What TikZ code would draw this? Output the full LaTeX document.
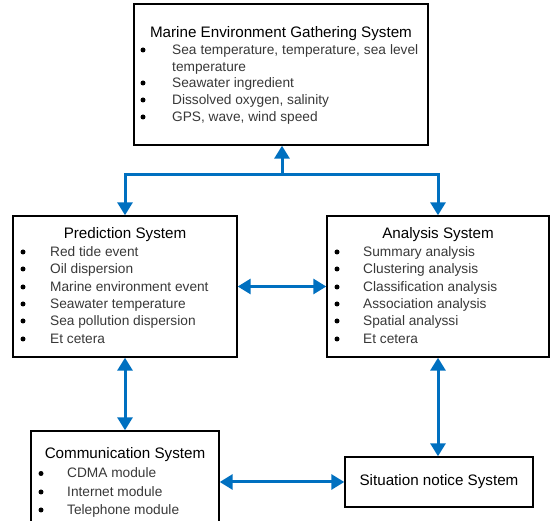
\documentclass[tikz,border=0pt]{standalone}
\usepackage{fontspec}
\setmainfont{Liberation Sans}
\usetikzlibrary{arrows.meta,positioning}
\definecolor{arrowblue}{HTML}{0070C0}
\colorlet{itemgray}{black!78}

\begin{document}
\begin{tikzpicture}[
  x=1pt,y=-1pt,
  >={Triangle[width=15pt,length=13pt]},
  box/.style = {draw,line width=1.4pt,rectangle,inner sep=0pt},
  title/.style = {font=\fontsize{15.2}{17}\selectfont,inner sep=0pt,
    text height=11pt,text depth=0.4pt},
  item/.style = {font=\fontsize{13.7}{15}\selectfont,text=itemgray,anchor=west,
    inner sep=0pt,text height=10pt,text depth=1pt},
  dot/.style = {circle,fill=black,inner sep=0pt,minimum size=5pt},
  link/.style = {arrowblue,line width=3pt}
  ]
  \useasboundingbox (0,0) rectangle (550,521);
  % Boxes
  \node[box,minimum width=294pt,minimum height=141pt] (gather) at (281,74.5) {};
  \node[box,minimum width=224pt,minimum height=141pt] (pred) at (125,286.5) {};
  \node[box,minimum width=222pt,minimum height=141pt] (anal) at (438,286.5) {};
  \node[box,minimum width=188pt,minimum height=109pt] (comm) at (125,485.5) {};
  \node[box,minimum width=188pt,minimum height=50pt] (situ) at (439,482)
    {\fontsize{15.2}{17}\selectfont Situation notice System};
  % Titles
  \node[title] (gtitle) at (281,32) {Marine Environment Gathering System};
  \node[title] (ptitle) at (125,233) {Prediction System};
  \node[title] (atitle) at (438,233) {Analysis System};
  \node[title] (ctitle) at (125,453.5) {Communication System};
  % Items
  \node[dot] (gdot1) at (143,50) {};
  \node[item] (gitem1) at (172,50)
    {\makebox[246pt][s]{Sea temperature, temperature, sea level}};
  \node[item] (gitem1b) at (172,67) {temperature};
  \foreach \y/\txt [count=\i from 2] in {83/Seawater ingredient,
      100/{Dissolved oxygen, salinity},117/{GPS, wave, wind speed}} {
    \node[dot] (gdot\i) at (143,\y) {};
    \node[item] (gitem\i) at (172,\y) {\txt};
  }
  \foreach \y/\txt [count=\i] in {252/Red tide event,269/Oil dispersion,
      287/Marine environment event,304/Seawater temperature,
      321/Sea pollution dispersion,339/Et cetera} {
    \node[dot] (pdot\i) at (23,\y) {};
    \node[item] (pitem\i) at (50,\y) {\txt};
  }
  \foreach \y/\txt [count=\i] in {252/Summary analysis,269/Clustering analysis,
      287/Classification analysis,304/Association analysis,
      321/Spatial analyssi,339/Et cetera} {
    \node[dot] (adot\i) at (337,\y) {};
    \node[item] (aitem\i) at (363,\y) {\txt};
  }
  \foreach \y/\txt [count=\i] in {473.5/CDMA module,492/Internet module,
      510/Telephone module} {
    \node[dot] (cdot\i) at (41,\y) {};
    \node[item] (citem\i) at (67,\y) {\txt};
  }
  % Arrows
  \coordinate (junc) at (282,175);
  \draw[link,->] (junc) -- (gather.south -| junc);
  \draw[link,->] (junc) -| (pred.north);
  \draw[link,->] (junc) -| (anal.north);
  \draw[link,<->] (pred.east) -- (anal.west);
  \draw[link,<->] (pred.south) -- (comm.north);
  \draw[link,<->] (anal.south) -- (anal.south |- situ.north);
  \draw[link,<->] (situ.west -| comm.east) -- (situ.west);
\end{tikzpicture}
\end{document}
